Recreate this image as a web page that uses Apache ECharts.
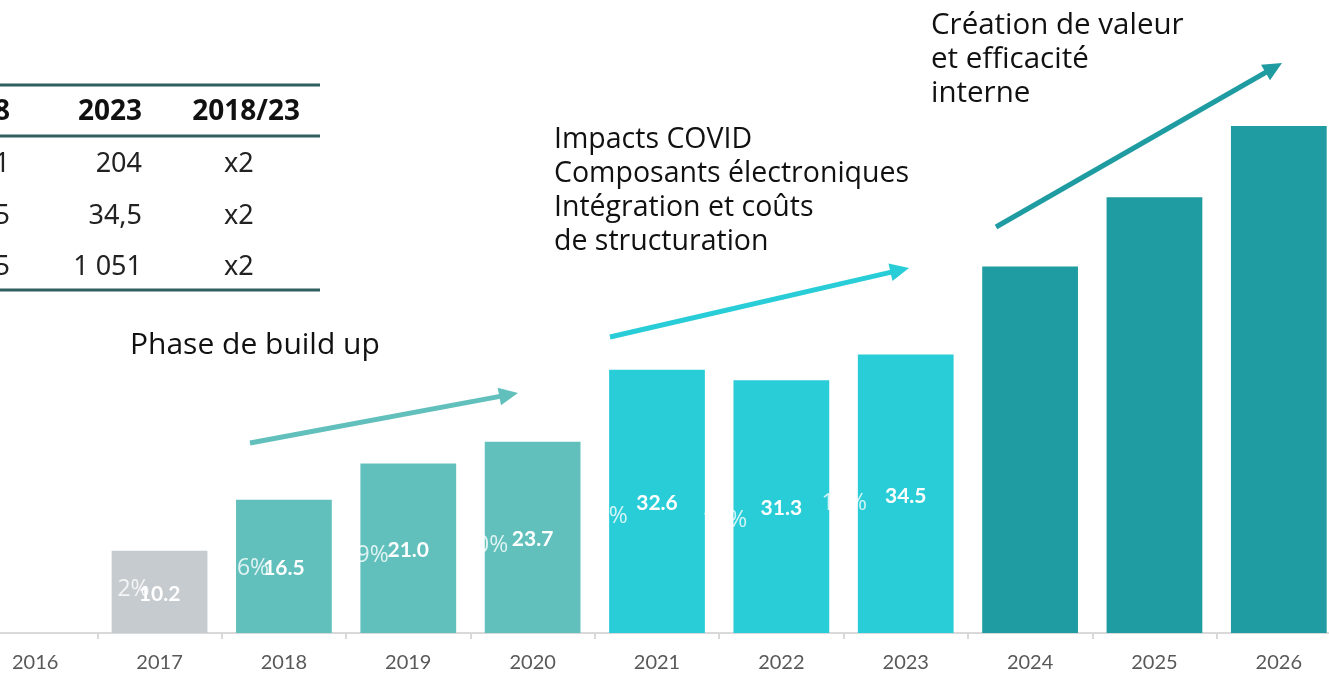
<!DOCTYPE html>
<html>
<head>
<meta charset="utf-8">
<script src="https://cdn.jsdelivr.net/npm/echarts@6/dist/echarts.min.js"></script>
<style>
  html, body { margin: 0; padding: 0; background: #fff; }
  #main { width: 1329px; height: 674px; }
</style>
</head>
<body>
<div id="main"></div>
<script>
// years on the axis (2016 has no bar)
var years = ['2016', '2017', '2018', '2019', '2020', '2021', '2022', '2023', '2024', '2025', '2026'];
// reported values (labelled) and later years (no label)
var reported = [null, 10.2, 16.5, 21.0, 23.7, 32.6, 31.3, 34.5, null, null, null];
var projected = [null, null, null, null, null, null, null, null, 45.4, 54.0, 62.8];
// phase of each year -> colour
var phase = ['', 'base', 'build', 'build', 'build', 'covid', 'covid', 'covid', 'value', 'value', 'value'];
// white percentage labels (only partly visible over the bars)
var pctText = ['', '2%', '16%', '19%', '20%', '21%', '11%', '12%'];
var pctLevel = [null, 5.4, 8.0, 9.6, 10.8, 14.5, 13.9, 16.0];

// small table, top left (cut by the frame)
var tableHead = ['2018', '2023', '2018/23'];
var tableRows = [
  ['101', '204', 'x2'],
  ['16,5', '34,5', 'x2'],
  ['525', '1 051', 'x2']
];

var phaseColor = {
  base: '#c5cbce',
  build: '#62c0bc',
  covid: '#29cdd7',
  value: '#1f9ca1'
};

function barData(arr) {
  return arr.map(function (v, i) {
    return { value: v, itemStyle: { color: phaseColor[phase[i]] || '#ccc' } };
  });
}

function arrow(x1, y1, x2, y2, color) {
  var dx = x2 - x1, dy = y2 - y1;
  var len = Math.sqrt(dx * dx + dy * dy);
  var ux = dx / len, uy = dy / len;
  var head = 19, half = 9;
  var bx = x2 - ux * head, by = y2 - uy * head;
  return {
    type: 'group',
    children: [
      { type: 'line', shape: { x1: x1, y1: y1, x2: bx + ux * 2, y2: by + uy * 2 },
        style: { stroke: color, lineWidth: 5 } },
      { type: 'polygon',
        shape: { points: [[x2, y2], [bx - uy * half, by + ux * half], [bx + uy * half, by - ux * half]] },
        style: { fill: color } }
    ]
  };
}

var tableFont = 'Noto Sans';
var colRight = [10, 142];
var graphics = [];
// table lines
[85, 136, 290].forEach(function (y) {
  graphics.push({ type: 'line', shape: { x1: 0, y1: y, x2: 320, y2: y },
    style: { stroke: '#2f5f5f', lineWidth: 3 } });
});
// header
var headFont = 'bold 28px ' + tableFont;
graphics.push({ type: 'text', x: colRight[0], y: 112, style: { text: tableHead[0], fill: '#111',
  font: headFont, textAlign: 'right', textVerticalAlign: 'middle' } });
graphics.push({ type: 'text', x: colRight[1], y: 112, style: { text: tableHead[1], fill: '#111',
  font: headFont, textAlign: 'right', textVerticalAlign: 'middle' } });
graphics.push({ type: 'text', x: 300, y: 112, style: { text: tableHead[2], fill: '#111',
  font: headFont, textAlign: 'right', textVerticalAlign: 'middle' } });
// rows
var rowFont = '27px ' + tableFont;
var rowY = [164, 216, 267];
tableRows.forEach(function (r, i) {
  graphics.push({ type: 'text', x: colRight[0], y: rowY[i], style: { text: r[0], fill: '#222',
    font: rowFont, textAlign: 'right', textVerticalAlign: 'middle' } });
  graphics.push({ type: 'text', x: colRight[1], y: rowY[i], style: { text: r[1], fill: '#222',
    font: rowFont, textAlign: 'right', textVerticalAlign: 'middle' } });
  graphics.push({ type: 'text', x: 224, y: rowY[i], style: { text: r[2], fill: '#222',
    font: rowFont, textAlign: 'left', textVerticalAlign: 'middle' } });
});

// annotations
function note(text, x, y, size) {
  return { type: 'text', x: x, y: y,
    style: { text: text, fill: '#111', font: size + 'px Open Sans', lineHeight: 34,
      textVerticalAlign: 'top' } };
}
graphics.push(note('Phase de build up', 130, 328, 30));
graphics.push(note('Impacts COVID\nComposants électroniques\nIntégration et coûts\nde structuration', 554, 123, 28.5));
graphics.push(note('Création de valeur\net efficacité\ninterne', 931, 9, 29.5));

// arrows
graphics.push(arrow(250, 443, 518, 393, phaseColor.build));
graphics.push(arrow(610, 337, 909, 268, phaseColor.covid));
graphics.push(arrow(996, 227, 1282, 63, phaseColor.value));

var option = {
  animation: false,
  grid: { left: -27, right: -12, top: 68, bottom: 41, containLabel: false, outerBoundsMode: 'none' },
  xAxis: {
    type: 'category',
    data: years,
    axisLine: { lineStyle: { color: '#d9d9d9', width: 2 } },
    axisTick: { show: true, length: 6, lineStyle: { color: '#d9d9d9', width: 2 } },
    axisLabel: { color: '#595959', fontSize: 20, fontFamily: 'Lato', margin: 20 }
  },
  yAxis: {
    type: 'value', min: 0, max: 70,
    show: false, splitLine: { show: false }
  },
  series: [
    {
      type: 'bar', stack: 'rev', data: barData(reported),
      barCategoryGap: '23%',
      label: { show: true, position: 'inside', color: '#fff', fontWeight: 'bold',
        fontSize: 21, fontFamily: 'Lato', offset: [0, 2],
        formatter: function (p) { return p.value == null ? '' : p.value.toFixed(1); } }
    },
    {
      type: 'bar', stack: 'rev', data: barData(projected),
      barCategoryGap: '23%'
    },
    {
      type: 'scatter', symbolSize: 0, silent: true, z: 5,
      data: pctLevel.map(function (v, i) {
        return {
          value: v,
          label: { offset: [-10 - 4.8 * (i - 1), 0] }
        };
      }),
      label: {
        show: true, position: 'left', distance: 0, color: '#fff',
        fontSize: 23, fontFamily: 'Open Sans',
        formatter: function (p) { return pctText[p.dataIndex]; }
      }
    }
  ],
  graphic: graphics
};

var chart = echarts.init(document.getElementById('main'));
chart.setOption(option);
</script>
</body>
</html>
